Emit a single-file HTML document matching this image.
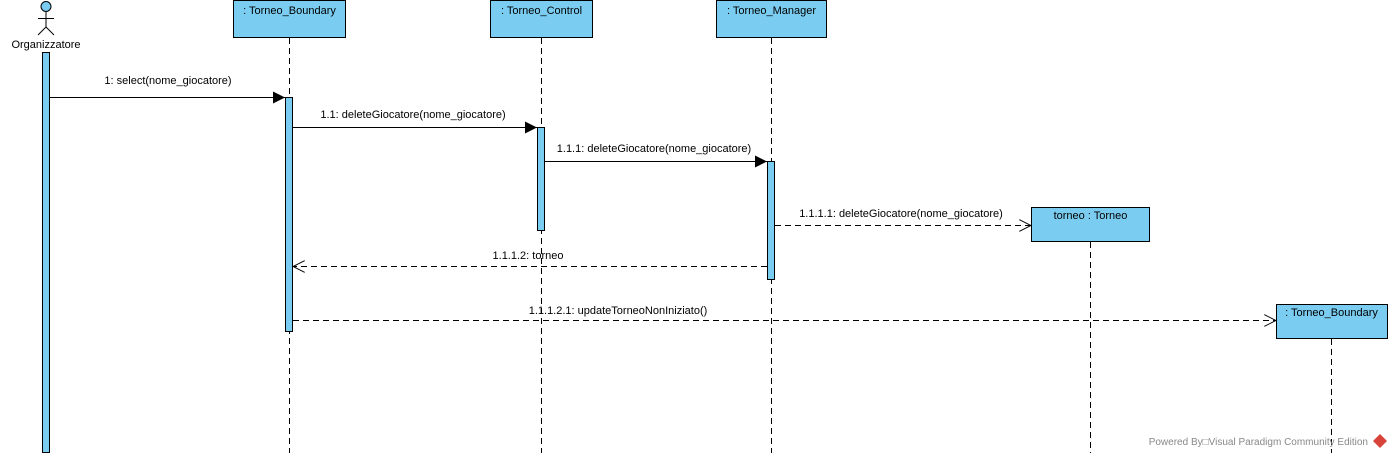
<!DOCTYPE html>
<html><head><meta charset="utf-8"><style>
html,body{margin:0;padding:0;background:#fff;width:1392px;height:458px;overflow:hidden}
svg text{font-family:"Liberation Sans",sans-serif;font-size:11px;fill:#000}
</style></head><body>
<svg width="1392" height="458" xmlns="http://www.w3.org/2000/svg">
<defs>
<marker id="f" markerWidth="12" markerHeight="12" refX="12" refY="6" orient="auto" markerUnits="userSpaceOnUse"><path d="M0,0 L12,6 L0,12 z" fill="#000"/></marker>
<marker id="o" markerWidth="12" markerHeight="12" refX="12" refY="6" orient="auto" markerUnits="userSpaceOnUse"><path d="M0,0 L12,6 L0,12" fill="none" stroke="#000"/></marker>
</defs>
<g stroke="#000" stroke-width="1" stroke-dasharray="6,4" fill="none">
<line x1="289.5" y1="38" x2="289.5" y2="453"/>
<line x1="541.5" y1="38" x2="541.5" y2="453"/>
<line x1="771.5" y1="38" x2="771.5" y2="453"/>
<line x1="1090.5" y1="242" x2="1090.5" y2="453"/>
<line x1="1331.5" y1="339" x2="1331.5" y2="453"/>
</g>
<circle cx="46" cy="6.5" r="5" fill="#7acdf1" stroke="#000"/>
<g stroke="#000" fill="none">
<line x1="46" y1="11.5" x2="46" y2="27"/>
<line x1="38" y1="18.5" x2="54" y2="18.5"/>
<line x1="46" y1="27" x2="38" y2="35"/>
<line x1="46" y1="27" x2="54" y2="35"/>
</g>
<text x="46" y="48" text-anchor="middle">Organizzatore</text>
<g fill="#7acdf1" stroke="#000">
<rect x="42.5" y="52.5" width="7" height="400"/>
<rect x="233.5" y="0.5" width="112" height="37"/>
<rect x="490.5" y="0.5" width="102" height="37"/>
<rect x="716.5" y="0.5" width="110" height="37"/>
<rect x="1031.5" y="207.5" width="118" height="34"/>
<rect x="1276.5" y="304.5" width="111" height="34"/>
<rect x="285.5" y="97.5" width="7" height="234"/>
<rect x="537.5" y="127.5" width="7" height="103"/>
<rect x="767.5" y="161.5" width="7" height="118"/>
</g>
<text x="289.5" y="14" text-anchor="middle">: Torneo_Boundary</text>
<text x="541.5" y="14" text-anchor="middle">: Torneo_Control</text>
<text x="771.5" y="14" text-anchor="middle">: Torneo_Manager</text>
<text x="1090.5" y="219" text-anchor="middle">torneo : Torneo</text>
<text x="1331.5" y="316" text-anchor="middle">: Torneo_Boundary</text>
<g stroke="#000" fill="none">
<line x1="50" y1="97.5" x2="285" y2="97.5" marker-end="url(#f)"/>
<line x1="293" y1="127.5" x2="537" y2="127.5" marker-end="url(#f)"/>
<line x1="545" y1="161.5" x2="767" y2="161.5" marker-end="url(#f)"/>
<line x1="775" y1="225.5" x2="1031" y2="225.5" stroke-dasharray="6,4" marker-end="url(#o)"/>
<line x1="767" y1="266.5" x2="293" y2="266.5" stroke-dasharray="6,4" marker-end="url(#o)"/>
<line x1="293" y1="320.5" x2="1276" y2="320.5" stroke-dasharray="6,4" marker-end="url(#o)"/>
</g>
<text x="168" y="84" text-anchor="middle">1: select(nome_giocatore)</text>
<text x="413" y="118" text-anchor="middle">1.1: deleteGiocatore(nome_giocatore)</text>
<text x="654" y="152" text-anchor="middle">1.1.1: deleteGiocatore(nome_giocatore)</text>
<text x="901" y="217" text-anchor="middle">1.1.1.1: deleteGiocatore(nome_giocatore)</text>
<text x="528" y="259" text-anchor="middle">1.1.1.2: torneo</text>
<text x="618" y="314" text-anchor="middle">1.1.1.2.1: updateTorneoNonIniziato()</text>
<text x="1368" y="445" text-anchor="end" style="fill:#888;font-size:10px">Powered By□Visual Paradigm Community Edition</text>
<path d="M1380,434 l7,7 l-7,7 l-7,-7 z" fill="#d9443a"/>
</svg>
</body></html>
